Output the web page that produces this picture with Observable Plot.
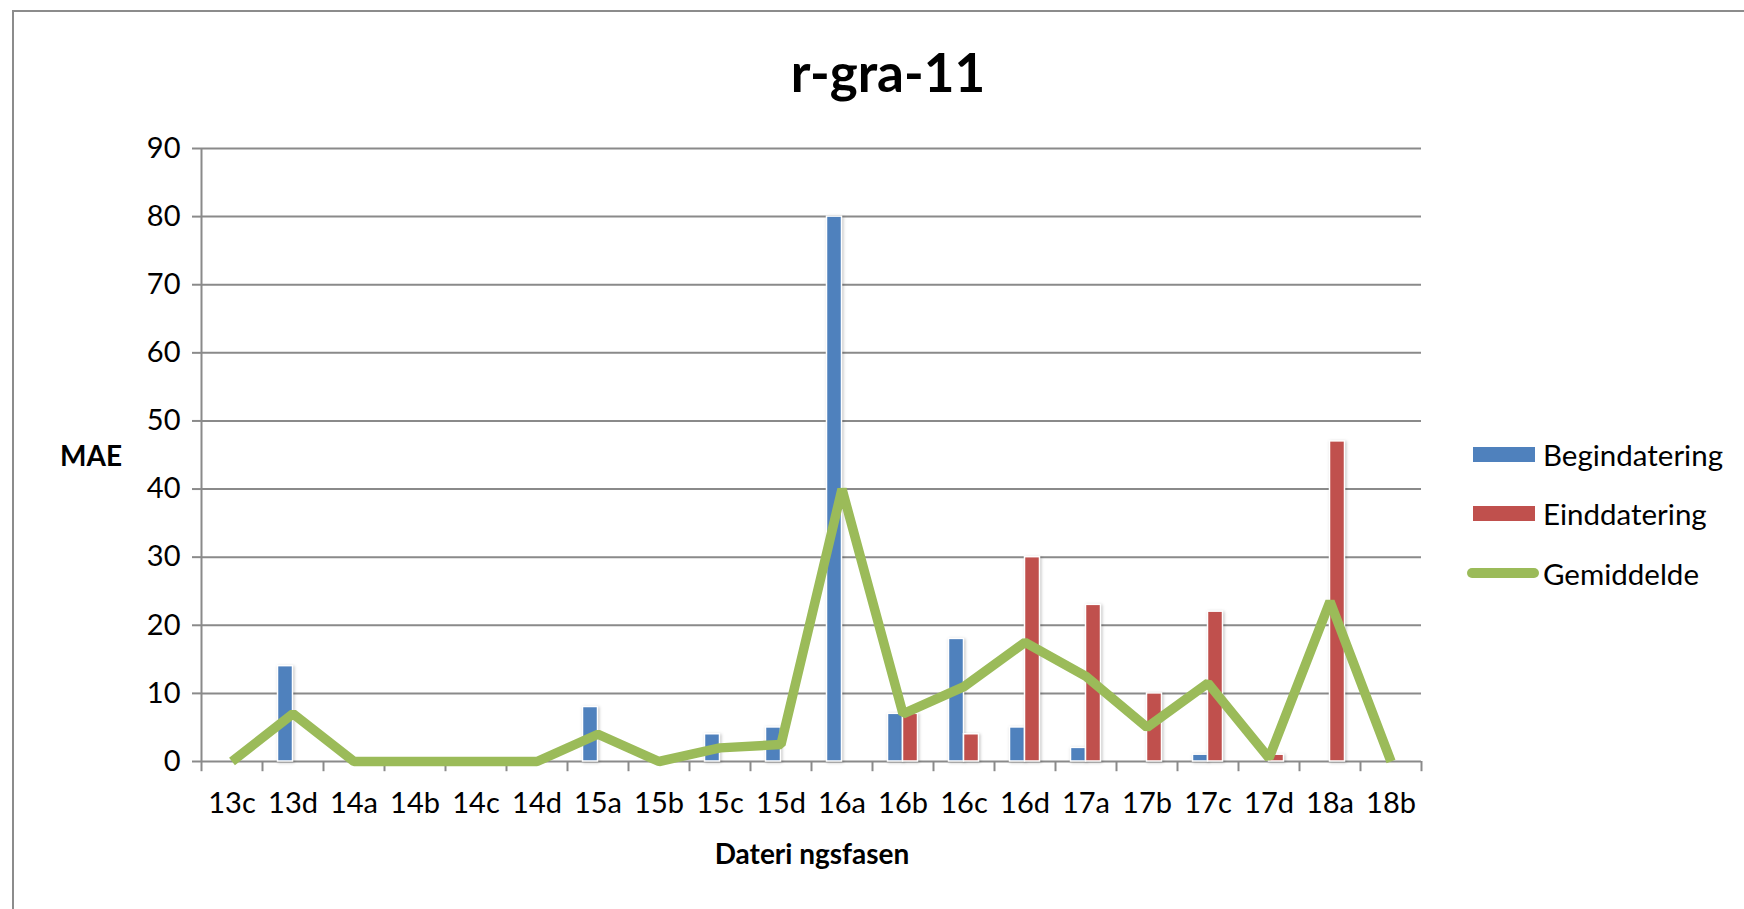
<!DOCTYPE html>
<html>
<head>
<meta charset="utf-8">
<script src="https://cdn.jsdelivr.net/npm/d3@7"></script>
<script src="https://cdn.jsdelivr.net/npm/@observablehq/plot@0.6"></script>
<style>
  html, body { margin: 0; padding: 0; background: #fff; overflow: hidden; }
  #wrap { position: relative; width: 1744px; height: 909px; font-family: Lato, "Open Sans", sans-serif; }
  #border { position: absolute; left: 12px; top: 10px; width: 1800px; height: 1000px; border-top: 2px solid #8c8c8c; border-left: 2px solid #8c8c8c; }
  #title { position: absolute; left: 0; width: 1776px; top: 40px; text-align: center; font-size: 53px; font-weight: bold; color: #000; }
  #ylabel { position: absolute; left: 60px; top: 438px; font-size: 28px; font-weight: bold; }
  #xlabel { position: absolute; left: 0; width: 1624px; top: 836px; text-align: center; font-size: 28px; font-weight: bold; }
  #chart { position: absolute; left: 0; top: 0; }
  .leg { position: absolute; left: 1467px; height: 40px; font-size: 29.5px; display: flex; align-items: center; }
  .sw { display: inline-block; width: 62px; height: 15px; margin-left: 6px; margin-right: 8px; }
  .ln { display: inline-block; width: 72px; height: 10px; border-radius: 5px; margin-right: 4px; }
  .bars rect { filter: drop-shadow(1px 1px 1.5px rgba(0,0,0,0.25)); }
</style>
</head>
<body>
<div id="wrap">
  <div id="border"></div>
  <div id="chart"></div>
  <div id="title">r-gra-11</div>
  <div id="ylabel">MAE</div>
  <div id="xlabel">Dateri ngsfasen</div>
  <div id="legend"></div>
</div>
<script>
const categories = ["13c","13d","14a","14b","14c","14d","15a","15b","15c","15d","16a","16b","16c","16d","17a","17b","17c","17d","18a","18b"];
const begindatering = [0,14,0,0,0,0,8,0,4,5,80,7,18,5,2,0,1,0,0,0];
const einddatering  = [0,0,0,0,0,0,0,0,0,0,0,7,4,30,23,10,22,1,47,0];
const gemiddelde    = [0,7,0,0,0,0,4,0,2,2.5,40,7,11,17.5,12.5,5,11.5,0.5,23.5,0];
const yTicks = [0,10,20,30,40,50,60,70,80,90];
const seriesNames = ["Begindatering","Einddatering","Gemiddelde"];
const colors = ["#4F81BD","#C0504D","#9BBB59"];

const blue = categories.map((c,i)=>({cat:c, v:begindatering[i]})).filter(d=>d.v>0);
const red  = categories.map((c,i)=>({cat:c, v:einddatering[i]})).filter(d=>d.v>0);
const green = categories.map((c,i)=>({cat:c, v:gemiddelde[i]}));

const W = 1744, H = 909, ml = 201, mr = 323, mt = 148, mb = 148;
const bw = (W - ml - mr) / categories.length;
const half = bw / 2, barW = 14;

const chart = Plot.plot({
  width: W, height: H,
  marginLeft: ml, marginRight: mr, marginTop: mt, marginBottom: mb,
  style: {fontFamily: "Lato, 'Open Sans', sans-serif", fontSize: "29px", color: "#000", background: "transparent"},
  x: {domain: categories, padding: 0, label: null},
  y: {domain: [0, 90], label: null},
  marks: [
    Plot.ruleY(yTicks, {stroke: "#8a8a8a", strokeWidth: 2}),
    Plot.axisY({ticks: yTicks, tickSize: 9, tickPadding: 12, stroke: "#8a8a8a", strokeWidth: 2, label: null, fontSize: 29}),
    Plot.axisX({tickSize: 0, tickPadding: 31, label: null, fontSize: 29}),
    Plot.ruleX(categories, {x: d=>d, dx: -half, y1: -1.5, y2: 0, stroke: "#8a8a8a", strokeWidth: 2}),
    Plot.ruleX([categories[categories.length-1]], {x: d=>d, dx: half, y1: -1.5, y2: 0, stroke: "#8a8a8a", strokeWidth: 2}),
    Plot.ruleX([categories[0]], {x: d=>d, dx: -half, y1: 0, y2: 90, stroke: "#8a8a8a", strokeWidth: 2}),
    Plot.barY(blue, {x: "cat", y: "v", fill: colors[0], stroke: "#fff", strokeWidth: 1.5, insetLeft: half - barW - 1, insetRight: half, className: "bars"}),
    Plot.barY(red, {x: "cat", y: "v", fill: colors[1], stroke: "#fff", strokeWidth: 1.5, insetLeft: half, insetRight: half - barW - 1, className: "bars"}),
    Plot.lineY(green, {x: "cat", y: "v", stroke: colors[2], strokeWidth: 9.5, strokeLinejoin: "miter", strokeLinecap: "butt"})
  ]
});
document.getElementById("chart").appendChild(chart);

const legTops = [434, 493, 553];
const leg = document.getElementById("legend");
seriesNames.forEach((n,i)=>{
  const d = document.createElement("div");
  d.className = "leg";
  d.style.top = legTops[i] + "px";
  const s = document.createElement("span");
  s.className = i < 2 ? "sw" : "ln";
  s.style.background = colors[i];
  d.appendChild(s);
  d.appendChild(document.createTextNode(n));
  leg.appendChild(d);
});
</script>
</body>
</html>
